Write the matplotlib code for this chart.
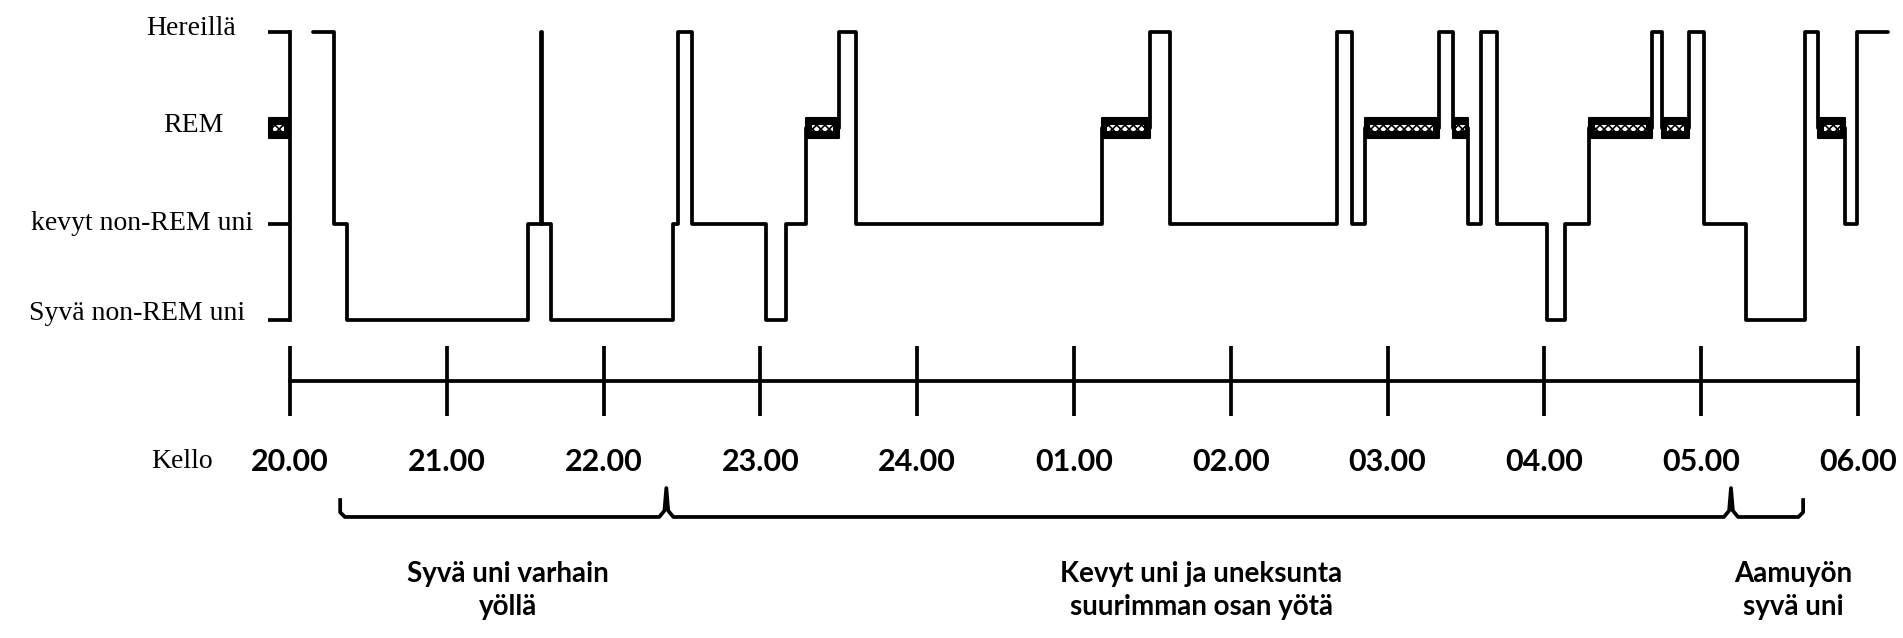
import matplotlib
matplotlib.use('Agg')
import matplotlib.pyplot as plt
from matplotlib.patches import Rectangle

# --- data ---
# stage codes: 1 = syvä, 2 = kevyt, 3 = REM, 4 = hereillä
stage_names = ['Syvä non-REM uni', 'kevyt non-REM uni', 'REM', 'Hereillä']
stage_codes = [1, 2, 3, 4]

# time of each stage change (hours, 24.0 = midnight) and the stage entered
change_times = [20.146, 20.278, 20.364, 21.516, 21.600, 21.608, 21.667,
                22.442, 22.474, 22.565, 23.038, 23.165, 23.291, 23.500,
                23.608, 25.178, 25.484, 25.611, 26.679, 26.774, 26.855,
                27.325, 27.416, 27.513, 27.597, 27.695, 28.019, 28.133,
                28.285, 28.684, 28.747, 28.924, 29.019, 29.285, 29.665,
                29.747, 29.918, 29.994]
stages = [4, 2, 1, 2, 4, 2, 1,
          2, 4, 2, 1, 2, 3, 4,
          2, 3, 4, 2, 4, 2, 3,
          4, 3, 2, 4, 2, 1, 2,
          3, 4, 3, 4, 2, 1, 4,
          3, 2, 4]
trace_end = 30.19

hours = list(range(20, 31))
hour_labels = ['20.00', '21.00', '22.00', '23.00', '24.00', '01.00',
               '02.00', '03.00', '04.00', '05.00', '06.00']

# brace: start, first peak, second peak, end
brace_points = [20.32, 22.40, 29.19, 29.65]
phase_captions = ['Syvä uni varhain\nyöllä',
                  'Kevyt uni ja uneksunta\nsuurimman osan yötä',
                  'Aamuyön\nsyvä uni']
caption_x = [21.39, 25.81, 29.59]

# --- figure ---
plt.rcParams['hatch.linewidth'] = 1.2
W, H = 1903, 638
fig = plt.figure(figsize=(W / 100, H / 100), dpi=100)
x0, xw = 290 / W, 1568 / W

serif = 'Liberation Serif'
sans = 'Lato'
LW = 2.7


def rem_box(axis, t0, t1, y):
    # black bar with a light chain pattern inside
    axis.add_patch(Rectangle((t0, y - 0.1), t1 - t0, 0.2, facecolor='black',
                             edgecolor='black', lw=1.5, joinstyle='round',
                             zorder=3, clip_on=False))
    dx = min(0.035, (t1 - t0) * 0.2)
    axis.add_patch(Rectangle((t0 + dx, y - 0.035), t1 - t0 - 2 * dx, 0.07,
                             facecolor='white', edgecolor='black', lw=0,
                             hatch='xxxx', zorder=4, clip_on=False))


# --- hypnogram ---
ax = fig.add_axes([x0, (H - 329.6) / H, xw, 307.2 / H])
ax.set_xlim(20, 30)
ax.set_ylim(0.9, 4.1)

ax.step(change_times + [trace_end], stages + [stages[-1]], where='post',
        color='black', lw=LW, solid_joinstyle='round', solid_capstyle='round',
        clip_on=False, zorder=2)

# REM periods as hatched bars
for i, s in enumerate(stages):
    if s == 3:
        rem_box(ax, change_times[i], change_times[i + 1], 3)

# left scale: spine + stubs
for sp in ['top', 'right', 'bottom']:
    ax.spines[sp].set_visible(False)
ax.spines['left'].set_linewidth(LW)
ax.spines['left'].set_bounds(1, 4)
ax.set_xticks([])
ax.set_yticks([1, 2, 4])
ax.set_yticklabels([])
ax.tick_params(axis='y', direction='out', length=16, width=LW)
rem_box(ax, 19.868, 19.988, 3)

label_x = [19.715, 19.768, 19.576, 19.656]
label_dy = [0.07, 0.0, 0.03, 0.04]
for name, code, lx, dy in zip(stage_names, stage_codes, label_x, label_dy):
    ax.text(lx, code + dy, name, ha='right', va='center',
            fontsize=20, family=serif, clip_on=False)

# --- time axis ---
ax_t = fig.add_axes([x0, (H - 381) / H, xw, 0.001])
ax_t.set_xlim(20, 30)
for sp in ['top', 'right', 'left']:
    ax_t.spines[sp].set_visible(False)
ax_t.spines['bottom'].set_linewidth(LW)
ax_t.set_yticks([])
ax_t.set_xticks(hours)
ax_t.set_xticklabels(hour_labels, fontsize=22, family=sans, fontweight='bold')
ax_t.tick_params(axis='x', direction='inout', length=50, width=LW, pad=23)
fig.text(182 / W, 1 - 462 / H, 'Kello', ha='center', va='center',
         fontsize=20, family=serif)

# --- braces and captions ---
ax_b = fig.add_axes([x0, 0, xw, 158 / H])
ax_b.set_xlim(20, 30)
ax_b.set_ylim(0, 1)
ax_b.axis('off')

y_line, y_hook, y_peak = 0.766, 0.873, 0.949
a, p1, p2, b = brace_points
bx = [a, a, a + 0.03]
by = [y_hook, y_line + 0.03, y_line]
for p in (p1, p2):
    bx += [p - 0.045, p - 0.012, p, p + 0.012, p + 0.045]
    by += [y_line, y_line + 0.04, y_peak, y_line + 0.04, y_line]
bx += [b - 0.03, b, b]
by += [y_line, y_line + 0.03, y_hook]
ax_b.plot(bx, by, color='black', lw=LW, solid_joinstyle='round',
          clip_on=False)

for cx, cap in zip(caption_x, phase_captions):
    ax_b.text(cx, 0.30, cap, ha='center', va='center', fontsize=20,
              family=sans, fontweight='bold', linespacing=1.3)

fig.savefig('out.png', dpi=100)
